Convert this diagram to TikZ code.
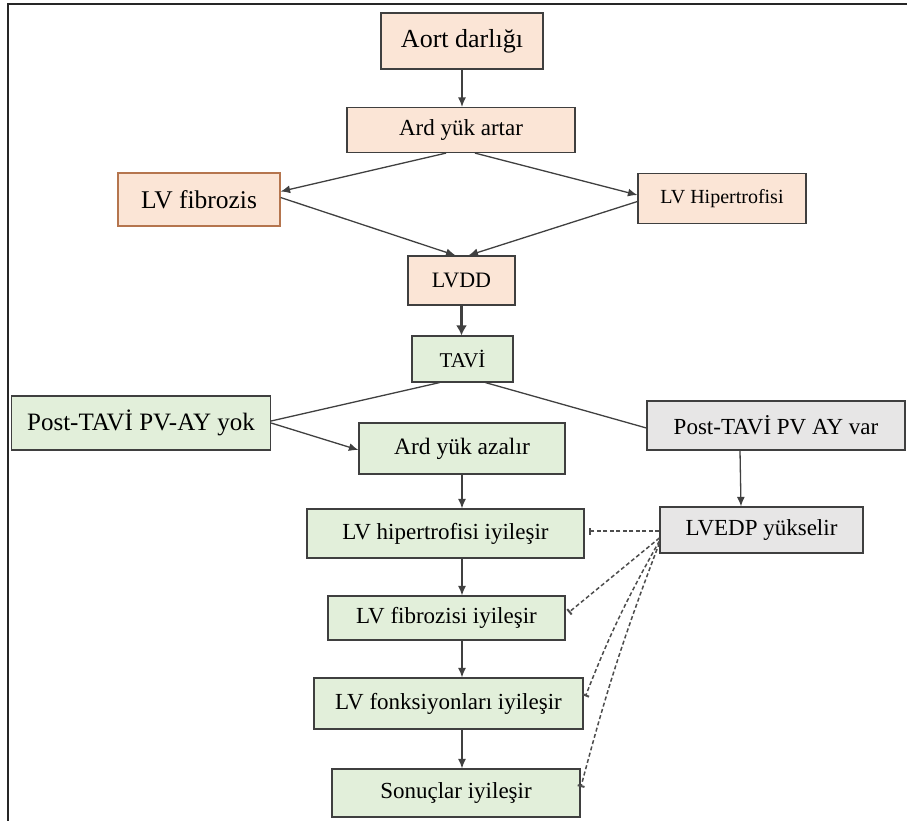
\documentclass[tikz,border=0pt]{standalone}
\usepackage{fontspec}
\setmainfont{Liberation Serif}
\usetikzlibrary{arrows.meta}

\definecolor{peach}{HTML}{FBE5D6}
\definecolor{palegreen}{HTML}{E2EFDA}
\definecolor{palegray}{HTML}{E7E6E6}
\definecolor{boxline}{HTML}{3F3F3F}
\definecolor{fibline}{HTML}{B5754E}
\definecolor{connline}{HTML}{404040}
\definecolor{dashline}{HTML}{4D4D4D}

\begin{document}
\begin{tikzpicture}[x=1pt,y=-1pt,
  box/.style={draw=boxline, line width=1.2pt, inner sep=0pt, align=center, font=\fontsize{23}{26}\selectfont},
  peachbox/.style={box, fill=peach},
  greenbox/.style={box, fill=palegreen},
  graybox/.style={box, fill=palegray},
  conn/.style={draw=connline, line width=1.3pt, -{Latex[length=9.5pt,width=8pt]}},
  inhib/.style={draw=dashline, line width=1.5pt, dash pattern=on 4pt off 2.5pt, -{Bar[width=7pt,line width=2pt]}}]
\useasboundingbox (0,0) rectangle (907,821);
%\draw [help lines, step=50] (0,0) grid (907,821);
\draw[line width=2pt, draw=black!85] (907,4) -- (8,4) -- (8,821);

\node[peachbox, minimum width=162pt, minimum height=56pt, font=\fontsize{26}{30}\selectfont] (P0) at (462,41) {Aort darlığı};
\node[peachbox, minimum width=228pt, minimum height=45pt] (P1) at (461,130) {Ard yük artar};
\node[peachbox, draw=fibline, minimum width=162pt, minimum height=53pt, font=\fontsize{25.5}{29}\selectfont] (P2) at (199,199.5) {LV fibrozis};
\node[peachbox, minimum width=168pt, minimum height=50pt, font=\fontsize{20}{23}\selectfont] (P3) at (722,198.5) {LV Hipertrofisi};
\node[peachbox, minimum width=107pt, minimum height=49pt, font=\fontsize{22}{25}\selectfont] (P4) at (461.5,280.5) {LVDD};

% after TAVI
\node[greenbox, minimum width=101pt, minimum height=46pt, font=\fontsize{21}{24}\selectfont] (P5) at (462.5,359) {TAVİ};
\node[greenbox, minimum width=259pt, minimum height=54pt, font=\fontsize{25}{28}\selectfont] (P6) at (141,423) {Post-TAVİ PV-AY yok};
\node[greenbox, minimum width=206pt, minimum height=51pt, font=\fontsize{23.5}{27}\selectfont] (P7) at (462,448.5) {Ard yük azalır};
\node[greenbox, minimum width=277pt, minimum height=49pt] (P8) at (445.5,533.5) {LV hipertrofisi iyileşir};
\node[greenbox, minimum width=237pt, minimum height=44pt] (P9) at (446.5,618) {LV fibrozisi iyileşir};
\node[graybox, minimum width=258pt, minimum height=49pt] (P10) at (776,425.5) {Post-TAVİ PV AY var};
\node[graybox, minimum width=203pt, minimum height=46pt] (P11) at (761.5,530) {LVEDP yükselir};
\node[greenbox, minimum width=269pt, minimum height=51pt] (P12) at (448.5,703.5) {LV fonksiyonları iyileşir};
\node[greenbox, minimum width=248pt, minimum height=48pt] (P13) at (456,793) {Sonuçlar iyileşir};

\path[every edge/.append style={conn}]

% aort darligi to ard yuk
(P0) edge (P0 |- P1.north)

% ard yuk to fibrozis and hipertrofi
([xshift=-15pt]P1.south) edge ([yshift=8pt]P2.east)
([xshift=14pt]P1.south) edge ([yshift=3.5pt]P3.west)

% both into LVDD
([yshift=2pt]P2.east) edge ([xshift=-6pt]P4.north)
([yshift=-3pt]P3.west) edge ([xshift=7pt]P4.north)

% LVDD to TAVI
(P4) edge[line width=3pt, -{Latex[length=10pt,width=11pt]}] (P4 |- P5.north)

% TAVI splits
([xshift=-23pt]P5.south) edge[-] ([yshift=2pt]P6.east)
([xshift=23pt]P5.south) edge[-] ([yshift=-2.5pt]P10.west)

% no leak
(P6.east) edge ([yshift=-1.5pt]P7.west)

% chain down
(P7) edge (P7 |- P8.north)
(P8.south -| P7) edge (P9.north -| P7)
(P9.south -| P7) edge (P12.north -| P7)
(P12.south -| P7) edge (P13.north -| P7)

% leak
([xshift=-36pt]P10.south) edge ([xshift=-20.5pt]P11.north);

\path[every edge/.append style={inhib}]
% LVEDP blocks the chain
([yshift=-1pt]P11.west) edge[shorten >=4pt] ([yshift=2.5pt]P8.east)
([yshift=-8pt]P11.west) edge[shorten >=4pt] ([yshift=3pt]P9.east)
([yshift=-11pt]P11.west) edge[shorten >=5pt, bend right=4] ([yshift=2.5pt]P12.east)
([yshift=-13pt]P11.west) edge[shorten >=1pt, bend right=3] ([yshift=5pt]P13.east);

\end{tikzpicture}
\end{document}
